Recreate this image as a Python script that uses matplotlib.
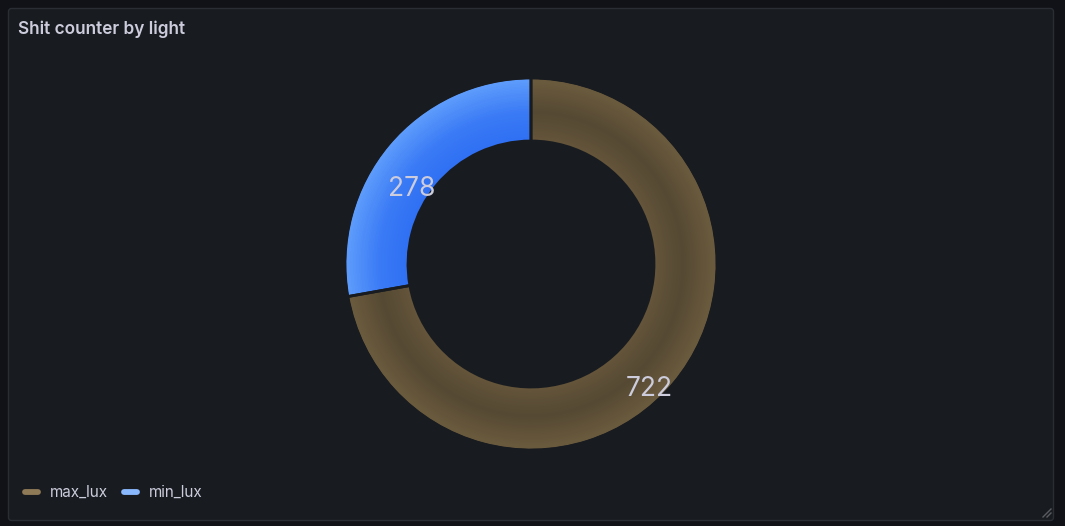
import matplotlib
matplotlib.use("Agg")
import matplotlib.pyplot as plt
import numpy as np
from matplotlib.patches import FancyBboxPatch
from matplotlib.colors import to_rgb

# Data
categories = ["max_lux", "min_lux"]
values = [722, 278]
title = "Shit counter by light"

# Style
W, H = 1065, 526
page_bg = "#111217"
panel_bg = "#181b1f"
panel_border = "#2a2d33"
text_col = "#ccccdc"
legend_cols = ["#8f7a57", "#8ab8ff"]
# gradient stops: (outer, middle, inner)
grad = {
    "max_lux": ("#6b5b3e", "#554933", "#63543a"),
    "min_lux": ("#5f9dfb", "#3a7af5", "#2f70f4"),
}

plt.rcParams["font.family"] = ["Inter", "DejaVu Sans"]
fig = plt.figure(figsize=(W / 100, H / 100), dpi=100, facecolor=page_bg)
ax = fig.add_axes([0, 0, 1, 1])

def Y(y):
    return H - y

# panel
ax.add_patch(FancyBboxPatch((8.5, Y(520.5)), 1045, 512, boxstyle="round,pad=0,rounding_size=3",
                            facecolor=panel_bg, edgecolor=panel_border, linewidth=1, zorder=0))

# donut
cx, cy = 531, Y(264)
r_out, r_in = 185, 124
n = 40
def interp(c1, c2, t):
    a, b = np.array(to_rgb(c1)), np.array(to_rgb(c2))
    return tuple(a + (b - a) * t)

def ring_color(name, t):  # t=0 outer, 1 inner
    o, m, i = grad[name]
    if t < 0.55:
        return interp(o, m, t / 0.55)
    return interp(m, i, (t - 0.55) / 0.45)

dr = (r_out - r_in) / n
for k in range(n):
    r = r_out - k * dr
    t = (k + 0.5) / n
    cols = [ring_color(c, t) for c in categories]
    ax.pie(values, colors=cols, radius=r, center=(cx, cy), startangle=90, counterclock=False,
           wedgeprops=dict(width=r - r_in, linewidth=0, antialiased=(k == 0)), frame=True)
# separators
ax.pie(values, colors=["none", "none"], radius=r_out + 1, center=(cx, cy), startangle=90,
       counterclock=False, wedgeprops=dict(width=r_out - r_in + 2, linewidth=2,
                                           edgecolor=panel_bg, facecolor="none"), frame=True)
ax.set_xlim(0, W)
ax.set_ylim(0, H)
ax.set_aspect("equal")
ax.axis("off")

ax.text(18, Y(29), title, color=text_col, fontsize=12.4, fontweight="semibold",
        ha="left", va="center")

# value labels
total = sum(values)
start = 90.0
r_lab = 155
for name, v in zip(categories, values):
    span = v / total * 360
    mid = np.deg2rad(start - span / 2)
    lx = cx + r_lab * np.cos(mid)
    ly = cy + r_lab * np.sin(mid) - 25
    ax.text(lx, ly, str(v), color=text_col, fontsize=19, ha="center", va="center")
    start -= span

# legend
lx0 = 23
for name, col in zip(categories, legend_cols):
    ax.plot([lx0 + 2, lx0 + 15], [Y(492), Y(492)], color=col, linewidth=4.2,
            solid_capstyle="round")
    t = ax.text(lx0 + 27, Y(492), name, color=text_col, fontsize=11, ha="left", va="center")
    fig.canvas.draw()
    bb = t.get_window_extent()
    lx0 = bb.x1 + 14

# resize handle
for d in (4, 8):
    ax.plot([1051 - d, 1051], [Y(517), Y(517 - d)], color="#5a5c63", linewidth=1)

fig.savefig("out.png", dpi=100, facecolor=page_bg)
